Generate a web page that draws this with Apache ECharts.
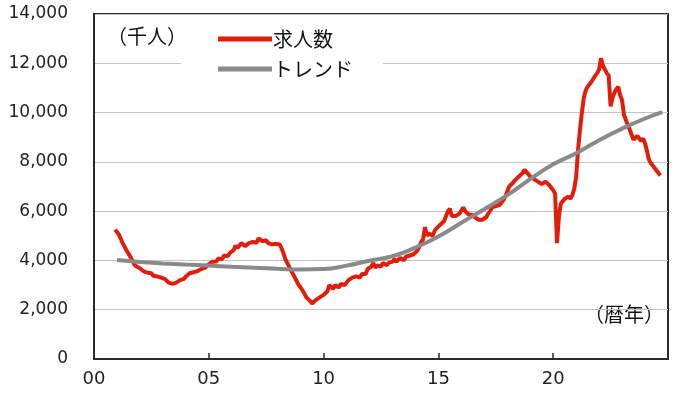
<!DOCTYPE html>
<html><head><meta charset="utf-8">
<script src="https://cdn.jsdelivr.net/npm/echarts@6/dist/echarts.min.js"></script>
<style>html,body{margin:0;padding:0;background:#fff}#c{width:680px;height:400px}</style>
</head><body><div id="c"></div>
<script>
// first month of the monthly series: December 2000
var startYear = 2000, startMonth = 12;
// job openings (thousands), monthly, one row per calendar year
var openings = [
  5250,
  5180, 5050, 4880, 4700, 4560, 4400, 4280, 4150, 4000, 3850, 3760, 3700,
  3680, 3600, 3560, 3620, 3500, 3470, 3480, 3380, 3420, 3350, 3400, 3300,
  3380, 3250, 3200, 3100, 3150, 3050, 2980, 3100, 3050, 3200, 3280, 3250,
  3350, 3400, 3480, 3550, 3520, 3600, 3560, 3500, 3650, 3580, 3700, 3620,
  3850, 3780, 3950, 4020, 3960, 4080, 4120, 4050, 4200, 4250, 4180, 4300,
  4350, 4420, 4600, 4500, 4550, 4700, 4620, 4580, 4650, 4700, 4620, 4750,
  4800, 4720, 4900, 4850, 4780, 4750, 4820, 4700, 4780, 4650, 4720, 4680,
  4700, 4650, 4500, 4300, 4050, 3900, 3750, 3600, 3450, 3300, 3150, 3000,
  2900, 2780, 2650, 2500, 2450, 2350, 2250, 2320, 2400, 2380, 2500, 2550,
  2600, 2650, 2750, 3000, 2950, 2850, 3000, 2950, 2900, 3050, 3100, 3000,
  3100, 3200, 3150, 3300, 3250, 3350, 3400, 3300, 3450, 3500, 3450, 3650,
  3700, 3750, 3900, 3700, 3800, 3850, 3750, 3900, 3850, 3800, 3900, 3950,
  3950, 4050, 3950, 4000, 4100, 4050, 4000, 4150, 4100, 4200, 4150, 4250,
  4300, 4400, 4550, 4750, 4850, 5350, 5000, 5100, 5050, 5000, 5200, 5300,
  5350, 5450, 5500, 5600, 5650, 6000, 6100, 5800, 5750, 5800, 5850, 5900,
  5950, 6150, 6000, 5950, 5850, 5900, 5850, 5750, 5700, 5650, 5600, 5650,
  5700, 5750, 5900, 6000, 6150, 6100, 6200, 6150, 6250, 6350, 6450, 6600,
  6800, 7000, 7050, 7150, 7250, 7300, 7400, 7450, 7550, 7680, 7600, 7500,
  7400, 7350, 7300, 7250, 7200, 7150, 7100, 7150, 7200, 7200, 7050, 7000,
  6850, 6700, 4700, 5800, 6300, 6350, 6500, 6550, 6600, 6500, 6650, 6900,
  7400, 8500, 9300, 10000, 10600, 10900, 11050, 11100, 11250, 11300, 11500, 11600,
  11750, 12200, 11900, 11750, 11600, 11500, 10250, 10600, 10800, 10950, 11050, 10700,
  10500, 9900, 9700, 9500, 9300, 9100, 8900, 8950, 9050, 8950, 8850, 8950,
  8750, 8450, 8100, 7950, 7850, 7750, 7650, 7700, 7450
];
// trend line read at these years
var trendYears  = [2001, 2002, 2003, 2004, 2005, 2006, 2007, 2008, 2009, 2010, 2011, 2012, 2013, 2014, 2015, 2016, 2017, 2018, 2019, 2020, 2021, 2022, 2023, 2024, 2024.75];
var trendValues = [4020, 3940, 3880, 3830, 3790, 3740, 3700, 3660, 3630, 3650, 3790, 3990, 4170, 4520, 4970, 5530, 6080, 6650, 7300, 7900, 8350, 8880, 9350, 9760, 10020];
var yTicks = [0, 2000, 4000, 6000, 8000, 10000, 12000, 14000];
var xTickYears = [2000, 2005, 2010, 2015, 2020, 2025];
var seriesNames = ['求人数', 'トレンド'];
var unitLabel = '（千人）', xUnitLabel = '（暦年）';

var redData = openings.map(function (v, i) {
  return [startYear + (startMonth - 1 + i) / 12, v];
});
var trendData = trendYears.map(function (y, i) { return [y, trendValues[i]]; });

var chart = echarts.init(document.getElementById('c'));
chart.setOption({
  animation: false,
  backgroundColor: '#fff',
  grid: { left: 94, right: 12, top: 14, bottom: 41, show: true, borderColor: '#2a2a2a', borderWidth: 2, backgroundColor: 'transparent' },
  xAxis: {
    type: 'value', min: xTickYears[0], max: xTickYears[xTickYears.length - 1], interval: 5,
    axisLine: { show: true, lineStyle: { color: '#2a2a2a', width: 2 } },
    axisTick: { show: true, inside: true, length: 6, lineStyle: { color: '#2a2a2a', width: 1.5 } },
    splitLine: { show: false },
    axisLabel: {
      margin: 11, color: '#222', fontFamily: 'DejaVu Sans', fontSize: 18,
      formatter: function (v) { return v >= 2025 ? '' : String(v % 100).padStart(2, '0'); }
    }
  },
  yAxis: {
    type: 'value', min: yTicks[0], max: yTicks[yTicks.length - 1], interval: 2000,
    axisLine: { show: true, lineStyle: { color: '#2a2a2a', width: 2 } },
    axisTick: { show: false },
    splitLine: { show: true, lineStyle: { color: '#c4c4c4', width: 1 } },
    axisLabel: {
      margin: 26, color: '#222', fontFamily: 'DejaVu Sans', fontSize: 17,
      formatter: function (v) { return v.toLocaleString('en-US'); }
    }
  },
  legend: {
    orient: 'vertical', left: 181, top: 21,
    padding: [8, 30, 8, 37],
    backgroundColor: '#fff',
    itemWidth: 54, itemHeight: 5, itemGap: 10,
    icon: 'rect',
    textStyle: { fontFamily: 'Noto Sans CJK JP', fontSize: 20, color: '#111', padding: [0, 0, 0, -4] },
    data: seriesNames
  },
  graphic: [
    { type: 'text', left: 107, top: 26, style: { text: unitLabel, font: '20px "Noto Sans CJK JP"', fill: '#111' } },
    { type: 'text', left: 584, top: 304, style: { text: xUnitLabel, font: '20px "Noto Sans CJK JP"', fill: '#111' } }
  ],
  series: [
    { name: seriesNames[0], type: 'line', data: redData, showSymbol: false, symbol: 'none',
      lineStyle: { color: '#e31d0c', width: 4 }, itemStyle: { color: '#e31d0c' }, z: 3 },
    { name: seriesNames[1], type: 'line', data: trendData, showSymbol: false, symbol: 'none', smooth: true,
      lineStyle: { color: '#8a8a8a', width: 4 }, itemStyle: { color: '#8a8a8a' }, z: 4 }
  ]
});
</script></body></html>
